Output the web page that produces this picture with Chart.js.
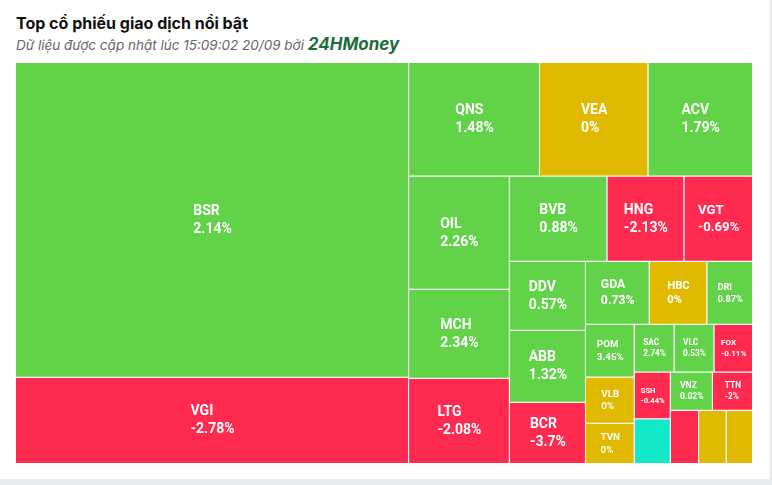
<!DOCTYPE html>
<html lang="vi">
<head>
<meta charset="utf-8">
<title>Top cổ phiếu giao dịch nổi bật</title>
<script src="https://cdn.jsdelivr.net/npm/chart.js@4.4.1/dist/chart.umd.min.js"></script>
<style>
  body { margin: 0; width: 772px; height: 485px; background: #e9ecef; overflow: hidden; font-family: Inter, sans-serif; }
  .card { position: absolute; left: 0; top: 0; width: 770px; height: 479px; background: #fff; border-right: 1px solid #e4e4e4; }
  .title { position: absolute; left: 16px; top: 13px; font: bold 16px Inter, sans-serif; line-height: 20px; color: #111; white-space: nowrap; }
  .sub { position: absolute; left: 16px; top: 34px; font: italic 13.5px Inter, sans-serif; line-height: 20px; color: #666; white-space: nowrap; }
  .sub b { font: italic bold 17px Inter, sans-serif; color: #1a6e3c; }
  canvas { position: absolute; left: 0; top: 0; }
</style>
</head>
<body>
<div class="card">
  <div class="title">Top cổ phiếu giao dịch nổi bật</div>
  <div class="sub">Dữ liệu được cập nhật lúc 15:09:02 20/09 bởi <b>24HMoney</b></div>
  <canvas id="treemap" width="770" height="479"></canvas>
</div>
<script>
// ma co phieu, gia tri giao dich (uoc luong theo dien tich o), % thay doi gia
const tickers = [
  "BSR", "VGI", "QNS", "VEA", "ACV", "OIL", "MCH", "LTG", "BVB", "HNG",
  "VGT", "DDV", "ABB", "BCR", "GDA", "HBC", "DRI", "POM", "VLB", "TVN",
  "SAC", "VLC", "FOX", "SSH", "", "VNZ", "TTN", "", "", "",
];
const volumes = [
  1234, 338, 148, 122.7, 118.3, 113.8, 89.6, 85.6, 83, 65.5,
  58.4, 52.4, 54.7, 46.4, 40.1, 36.3, 28.8, 25.6, 22.4, 19.6,
  18.9, 18.9, 18.3, 16.9, 16.1, 16.1, 15.4, 15.0, 14.6, 14.0,
];
const changes = [
  2.14, -2.78, 1.48, 0, 1.79, 2.26, 2.34, -2.08, 0.88, -2.13,
  -0.69, 0.57, 1.32, -3.7, 0.73, 0, 0.87, 3.45, 0, 0,
  2.74, 0.53, -0.11, -0.44, -14.9, 0.02, -2, -1, 0, 0,
];

const colorFor = (c) => {
  if (c <= -6.9) return "#13e8c9"; // gia san
  if (c < 0) return "#ff2a4f";
  if (c === 0) return "#e0b900";
  return "#62d248";
};

// squarified kieu highcharts: doi huong moi hang, so ti le cua o truoc do
function squarify(values, W, H) {
  const total = values.reduce((a, b) => a + b, 0);
  const areas = values.map((v) => (v / total) * W * H);
  const boxes = [];
  let x = 0, y = 0, w = W, h = H, vertical = true;
  let row = [];
  const ratio = (a, b) => Math.max(a / b, b / a);
  const side = () => (vertical ? h : w);
  const place = (items) => {
    const sum = items.reduce((s, i) => s + areas[i], 0);
    const thick = sum / side();
    let pos = 0;
    items.forEach((i) => {
      const len = areas[i] / thick;
      boxes[i] = vertical
        ? { x: x, y: y + pos, w: thick, h: len }
        : { x: x + pos, y: y, w: len, h: thick };
      pos += len;
    });
    if (vertical) { x += thick; w -= thick; } else { y += thick; h -= thick; }
    vertical = !vertical;
  };
  areas.forEach((a, i) => {
    if (row.length) {
      const prev = areas[row[row.length - 1]];
      const sum = row.reduce((s, j) => s + areas[j], 0);
      const oldT = sum / side();
      const newT = (sum + a) / side();
      if (ratio(newT, prev / newT) > ratio(oldT, prev / oldT)) {
        place(row);
        row = [];
      }
    }
    row.push(i);
  });
  place(row);
  return boxes;
}

class TreemapController extends Chart.DatasetController {
  static id = "treemap";
  static defaults = { dataElementType: "bar" };

  parse() {} // khong can parse, layout tinh trong update

  update(mode) {
    const meta = this._cachedMeta;
    this.updateElements(meta.data, 0, meta.data.length, mode);
  }

  updateElements(cells, start, count, mode) {
    const { xScale, yScale } = this._cachedMeta;
    const W = xScale.width, H = yScale.height;
    const boxes = squarify(this.getDataset().data, W, H);
    for (let i = start; i < start + count; i++) {
      const b = boxes[i];
      const left = xScale.getPixelForValue((b.x / W) * 100);
      const right = xScale.getPixelForValue(((b.x + b.w) / W) * 100);
      const top = yScale.getPixelForValue((b.y / H) * 100);
      const bottom = yScale.getPixelForValue(((b.y + b.h) / H) * 100);
      this.updateElement(cells[i], i, {
        x: (left + right) / 2,
        y: top,
        base: bottom,
        width: right - left,
        height: bottom - top,
        horizontal: false,
        inflateAmount: 0,
        borderSkipped: {},
        options: this.resolveDataElementOptions(i, mode),
      }, mode);
    }
  }

  draw() {
    super.draw();
    const ctx = this.chart.ctx;
    const labels = this.chart.data.labels;
    ctx.save();
    ctx.fillStyle = "#fff";
    ctx.textAlign = "left";
    ctx.textBaseline = "middle";
    this._cachedMeta.data.forEach((cell, i) => {
      const { x, y, base, width } = cell;
      if (!labels[i] || width < 30) return; // o qua nho thi an chu
      const size = Math.max(7.5, Math.min(14, width * 0.17 + 1.5));
      const lh = size * 1.29;
      const lines = [labels[i], changes[i] + "%"];
      ctx.font = "bold " + size + "px Roboto, sans-serif";
      const blockW = Math.max(...lines.map((t) => ctx.measureText(t).width));
      const cy = (y + base) / 2;
      lines.forEach((t, k) => {
        ctx.fillText(t, x - blockW / 2, cy + (k - 0.5) * lh);
      });
    });
    ctx.restore();
  }
}
Chart.register(TreemapController);

new Chart(document.getElementById("treemap"), {
  type: "treemap",
  data: {
    labels: tickers,
    datasets: [
      {
        data: volumes,
        backgroundColor: changes.map(colorFor),
        borderColor: "#ffffff",
        borderWidth: { top: 0, left: 0, right: 1, bottom: 1 },
        borderSkipped: false,
      },
    ],
  },
  options: {
    responsive: false,
    animation: false,
    layout: { padding: { left: 16, top: 63, right: 17, bottom: 15 } },
    scales: {
      x: { type: "linear", min: 0, max: 100, display: false },
      y: { type: "linear", min: 0, max: 100, reverse: true, display: false },
    },
    plugins: {
      legend: { display: false },
      tooltip: { enabled: false },
    },
  },
});
</script>
</body>
</html>
